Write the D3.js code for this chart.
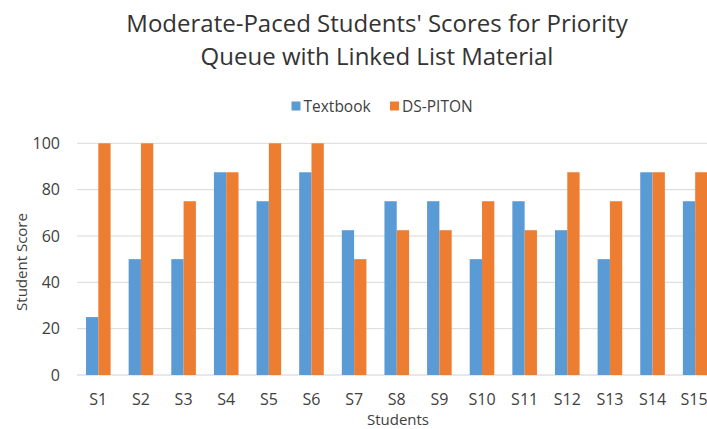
<!DOCTYPE html>
<html><head><meta charset="utf-8">
<script src="https://cdn.jsdelivr.net/npm/d3@7"></script>
<style>body{margin:0;background:#fff}svg{display:block}text{font-family:"Open Sans",sans-serif;fill:#404040}</style>
</head><body><svg id="c" width="707" height="429"></svg>
<script>
const categories = ["S1","S2","S3","S4","S5","S6","S7","S8","S9","S10","S11","S12","S13","S14","S15"];
const textbook = [25,50,50,87.5,75,87.5,62.5,75,75,50,75,62.5,50,87.5,75];
const dspiton = [100,100,75,87.5,100,100,50,62.5,62.5,75,62.5,87.5,75,87.5,87.5];
const yTicks = [0,20,40,60,80,100];
const seriesNames = ["Textbook","DS-PITON"];
const colors = ["#5b9bd5","#ed7d31"];
const titleLines = ["Moderate-Paced Students' Scores for Priority","Queue with Linked List Material"];

const svg = d3.select("#c");
const x = d3.scaleBand().domain(categories).range([77, 716.5]).paddingInner(0.423).paddingOuter(0.2115);
const x1 = d3.scaleBand().domain(seriesNames).range([0, x.bandwidth()]);
const y = d3.scaleLinear().domain([0,100]).range([375,143.3]);

// grid
svg.append("g").selectAll("line").data(yTicks).join("line")
  .attr("x1", 77).attr("x2", 707).attr("y1", d=>y(d)).attr("y2", d=>y(d))
  .attr("stroke", d=>d===0?"#d0d0d0":"#d9d9d9").attr("stroke-width",1);

// y labels
svg.append("g").selectAll("text").data(yTicks).join("text")
  .attr("x", 60).attr("y", d=>y(d)).attr("dy","0.36em").attr("text-anchor","end")
  .attr("font-size", 16).text(d=>d);

// bars
const data = categories.map((c,i)=>({c, v:[textbook[i], dspiton[i]]}));
const g = svg.append("g").selectAll("g").data(data).join("g").attr("transform", d=>`translate(${x(d.c)},0)`);
g.selectAll("rect").data(d=>d.v.map((v,j)=>({v,s:seriesNames[j],j}))).join("rect")
  .attr("x", d=>x1(d.s)).attr("width", x1.bandwidth())
  .attr("y", d=>y(d.v)).attr("height", d=>y(0)-y(d.v)).attr("fill", d=>colors[d.j]);

// x labels
svg.append("g").selectAll("text").data(categories).join("text")
  .attr("x", d=>Math.min(x(d)+x.bandwidth()/2, 694)).attr("y", 405).attr("text-anchor","middle")
  .attr("font-size", 16).text(d=>d);

// axis titles
svg.append("text").attr("x", 398).attr("y", 425).attr("text-anchor","middle").attr("font-size",15).text("Students");
svg.append("text").attr("transform","translate(27,262) rotate(-90)").attr("text-anchor","middle").attr("font-size",15).text("Student Score");

// title
svg.append("text").attr("x",377).attr("y",32).attr("text-anchor","middle").attr("font-size",24).style("fill","#333").text(titleLines[0]);
svg.append("text").attr("x",377).attr("y",65).attr("text-anchor","middle").attr("font-size",24).style("fill","#333").text(titleLines[1]);

// legend
const lg = svg.append("g");
const lx = [291.5, 390];
seriesNames.forEach((s,i)=>{
  lg.append("rect").attr("x",lx[i]).attr("y",101.5).attr("width",9).attr("height",9).attr("fill",colors[i]);
  lg.append("text").attr("x",lx[i]+12).attr("y",106).attr("dy","0.36em").attr("font-size",15.5).text(s);
});
</script></body></html>
